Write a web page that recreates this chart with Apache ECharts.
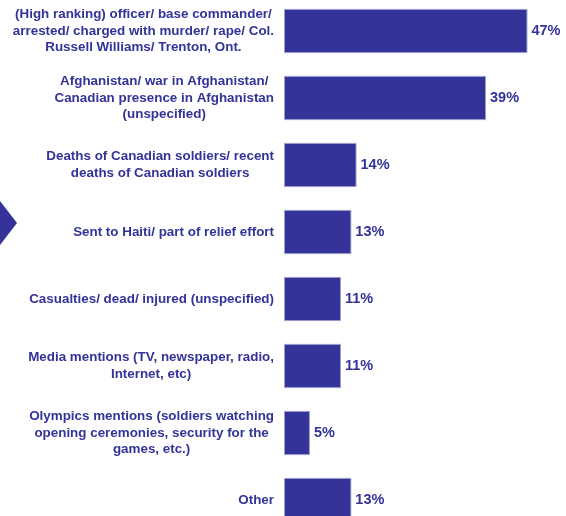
<!DOCTYPE html>
<html>
<head>
<meta charset="utf-8">
<script src="https://cdn.jsdelivr.net/npm/echarts@6/dist/echarts.min.js"></script>
<style>
  html, body { margin: 0; padding: 0; background: #ffffff; }
  #chart { width: 566px; height: 516px; }
</style>
</head>
<body>
<div id="chart"></div>
<script>
// Mentions of the Canadian Forces, top to bottom
const categories = [
  "(High ranking) officer/ base commander/\narrested/ charged with murder/ rape/ Col.\nRussell Williams/ Trenton, Ont.",
  "Afghanistan/ war in Afghanistan/\nCanadian presence in Afghanistan\n(unspecified)",
  "Deaths of Canadian soldiers/ recent\ndeaths of Canadian soldiers",
  "Sent to Haiti/ part of relief effort",
  "Casualties/ dead/ injured (unspecified)",
  "Media mentions (TV, newspaper, radio,\nInternet, etc)",
  "Olympics mentions (soldiers watching\nopening ceremonies, security for the\ngames, etc.)",
  "Other"
];
const percentages = [47, 39, 14, 13, 11, 11, 5, 13];

const BLUE = '#333399';
const FONT = '"Liberation Sans", Arial, sans-serif';

const chart = echarts.init(document.getElementById('chart'), null, { renderer: 'canvas' });

chart.setOption({
  animation: false,
  backgroundColor: '#ffffff',
  grid: {
    left: 284, top: -2.5, width: 259, height: 536,
    containLabel: false,
    outerBoundsMode: 'none'
  },
  xAxis: {
    type: 'value',
    min: 0,
    max: 50,
    show: false
  },
  yAxis: {
    type: 'category',
    data: categories,
    inverse: true,
    axisLine: { show: false },
    axisTick: { show: false },
    splitLine: { show: false },
    axisLabel: {
      margin: 10,
      align: 'right',
      formatter: function (v) {
        return v.split('\n').map(function (l) { return '{c|' + l + '}'; }).join('\n');
      },
      rich: {
        c: {
          align: 'center',
          color: BLUE,
          fontFamily: FONT,
          fontWeight: 'bold',
          fontSize: 13.4,
          lineHeight: 16.5
        }
      }
    }
  },
  series: [{
    type: 'bar',
    data: percentages,
    barCategoryGap: '34%',
    itemStyle: { color: BLUE, borderColor: '#9c9ccc', borderWidth: 1 },
    label: {
      show: true,
      position: 'right',
      distance: 4,
      formatter: '{c}%',
      color: BLUE,
      fontFamily: FONT,
      fontWeight: 'bold',
      fontSize: 14.5
    }
  }],
  graphic: [{
    type: 'polygon',
    shape: { points: [[0, 201], [17, 223], [0, 245]] },
    style: { fill: BLUE }
  }]
});
</script>
</body>
</html>
